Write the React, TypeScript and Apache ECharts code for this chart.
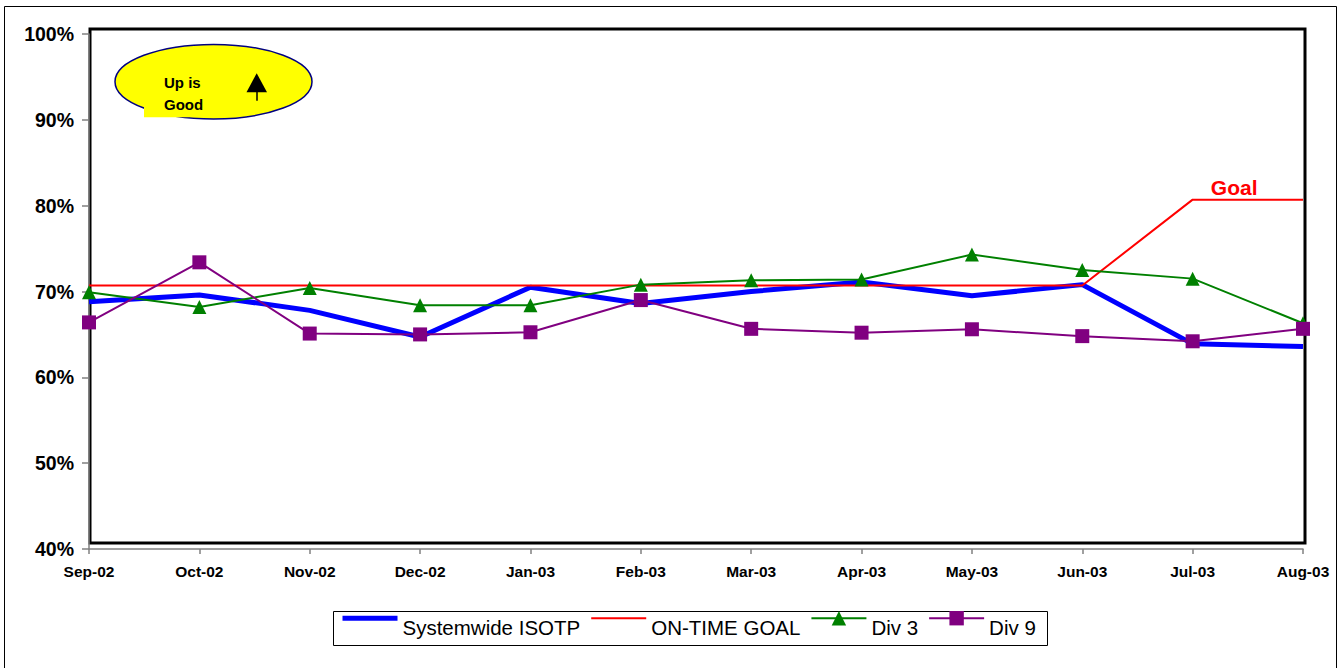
import React, { useEffect, useRef } from "react";
import * as echarts from "echarts";

const months = [
  "Sep-02", "Oct-02", "Nov-02", "Dec-02", "Jan-03", "Feb-03",
  "Mar-03", "Apr-03", "May-03", "Jun-03", "Jul-03", "Aug-03",
];
const systemwide = [68.8, 69.6, 67.8, 64.7, 70.5, 68.6, 70.0, 71.1, 69.5, 70.8, 63.9, 63.6];
const onTimeGoal = [70.7, 70.7, 70.7, 70.7, 70.7, 70.7, 70.7, 70.7, 70.7, 70.7, 80.7, 80.7];
const div3 = [69.9, 68.2, 70.4, 68.4, 68.4, 70.8, 71.3, 71.4, 74.3, 72.5, 71.5, 66.3];
const div9 = [66.4, 73.4, 65.1, 65.0, 65.25, 69.0, 65.65, 65.2, 65.6, 64.8, 64.2, 65.65];

const yMin = 40;
const yMax = 100;
const yStep = 10;

const FONT = "'Liberation Sans', Arial, sans-serif";

const App: React.FC = () => {
  const chartRef = useRef<HTMLDivElement>(null);

  useEffect(() => {
    document.body.style.margin = "0";
    if (!chartRef.current) return undefined;
    const chart = echarts.init(chartRef.current, undefined, { renderer: "svg" });

    const options: echarts.EChartsOption = {
      animation: false,
      backgroundColor: "#fff",
      grid: { left: 89, right: 38, top: 34, bottom: 119 },
      xAxis: {
        type: "category",
        data: months,
        boundaryGap: false,
        axisLine: { lineStyle: { color: "#808080", width: 1.5 } },
        axisTick: { length: 5, lineStyle: { color: "#808080", width: 1.5 } },
        axisLabel: {
          color: "#000",
          fontFamily: FONT,
          fontWeight: "bold",
          fontSize: 15.5,
          margin: 14,
        },
        splitLine: { show: false },
      },
      yAxis: {
        type: "value",
        min: yMin,
        max: yMax,
        interval: yStep,
        axisLine: { show: true, lineStyle: { color: "#808080", width: 1.5 } },
        axisTick: { show: true, length: 7, lineStyle: { color: "#808080", width: 1.5 } },
        axisLabel: {
          formatter: "{value}%",
          color: "#000",
          fontFamily: FONT,
          fontWeight: "bold",
          fontSize: 19.5,
          margin: 15,
        },
        splitLine: { show: false },
      },
      legend: {
        left: 340,
        top: 611,
        padding: 0,
        itemWidth: 55,
        itemHeight: 18,
        itemGap: 10,
        formatter: "{t|{name}}",
        textStyle: {
          fontFamily: FONT,
          fontSize: 20.5,
          color: "#000",
          rich: {
            t: {
              fontFamily: FONT,
              fontSize: 20.5,
              color: "#000",
              lineHeight: 40,
              verticalAlign: "bottom",
            },
          },
        },
        data: [
          { name: "Systemwide ISOTP", lineStyle: { width: 5 }, itemStyle: { opacity: 0 } },
          { name: "ON-TIME GOAL", lineStyle: { width: 2 }, itemStyle: { opacity: 0 } },
          { name: "Div 3", lineStyle: { width: 2 } },
          { name: "Div 9", lineStyle: { width: 2 } },
        ],
      },
      graphic: [
        {
          type: "rect",
          z: 0,
          shape: { x: 4.5, y: 6.5, width: 1332, height: 670 },
          style: { fill: "none", stroke: "#000", lineWidth: 1 },
        },
        {
          type: "rect",
          z: 0,
          shape: { x: 90, y: 29, width: 1215, height: 514 },
          style: { fill: "none", stroke: "#000", lineWidth: 3 },
        },
        {
          type: "rect",
          z: 0,
          shape: { x: 333.5, y: 611.5, width: 714, height: 34 },
          style: { fill: "#fff", stroke: "#000", lineWidth: 1 },
        },
        {
          type: "ellipse",
          z: 10,
          shape: { cx: 213.5, cy: 81.7, rx: 98.5, ry: 37.3 },
          style: { fill: "#ffff00", stroke: "#000080", lineWidth: 1.5 },
        },
        {
          type: "rect",
          z: 11,
          shape: { x: 144, y: 64, width: 70, height: 53.3 },
          style: { fill: "#ffff00" },
        },
        {
          type: "text",
          z: 12,
          x: 164,
          y: 82.5,
          style: {
            text: "Up is",
            fontFamily: FONT,
            fontWeight: "bold",
            fontSize: 15,
            fill: "#000",
            verticalAlign: "middle",
          },
        },
        {
          type: "text",
          z: 12,
          x: 164,
          y: 104.5,
          style: {
            text: "Good",
            fontFamily: FONT,
            fontWeight: "bold",
            fontSize: 15,
            fill: "#000",
            verticalAlign: "middle",
          },
        },
        {
          type: "polygon",
          z: 12,
          shape: { points: [[256.7, 73.3], [246.5, 92.3], [267, 92.3]] },
          style: { fill: "#000" },
        },
        {
          type: "line",
          z: 12,
          shape: { x1: 257, y1: 92, x2: 257, y2: 100.7 },
          style: { stroke: "#000", lineWidth: 1.5 },
        },
      ],
      series: [
        {
          name: "Systemwide ISOTP",
          type: "line",
          data: systemwide,
          color: "#0000ff",
          showSymbol: false,
          symbol: "none",
          lineStyle: { width: 5, color: "#0000ff" },
        },
        {
          name: "ON-TIME GOAL",
          type: "line",
          data: onTimeGoal,
          color: "#ff0000",
          showSymbol: false,
          symbol: "none",
          lineStyle: { width: 2, color: "#ff0000" },
          markPoint: {
            symbol: "circle",
            symbolSize: 1,
            itemStyle: { color: "rgba(0,0,0,0)" },
            data: [
              {
                coord: [months[10], onTimeGoal[10]],
                label: {
                  show: true,
                  formatter: "Goal",
                  position: "inside",
                  offset: [41.5, -12],
                  color: "#ff0000",
                  fontFamily: FONT,
                  fontWeight: "bold",
                  fontSize: 21,
                },
              },
            ],
          },
        },
        {
          name: "Div 3",
          type: "line",
          data: div3,
          color: "#008000",
          symbol: "triangle",
          symbolSize: [14, 14],
          lineStyle: { width: 2, color: "#008000" },
          itemStyle: { color: "#008000" },
        },
        {
          name: "Div 9",
          type: "line",
          data: div9,
          color: "#800080",
          symbol: "rect",
          symbolSize: 14,
          lineStyle: { width: 2, color: "#800080" },
          itemStyle: { color: "#800080" },
        },
      ],
    };
    chart.setOption(options);

    return () => {
      chart.dispose();
    };
  }, []);

  return <div ref={chartRef} style={{ width: "1341px", height: "668px" }} />;
};

export default App;
